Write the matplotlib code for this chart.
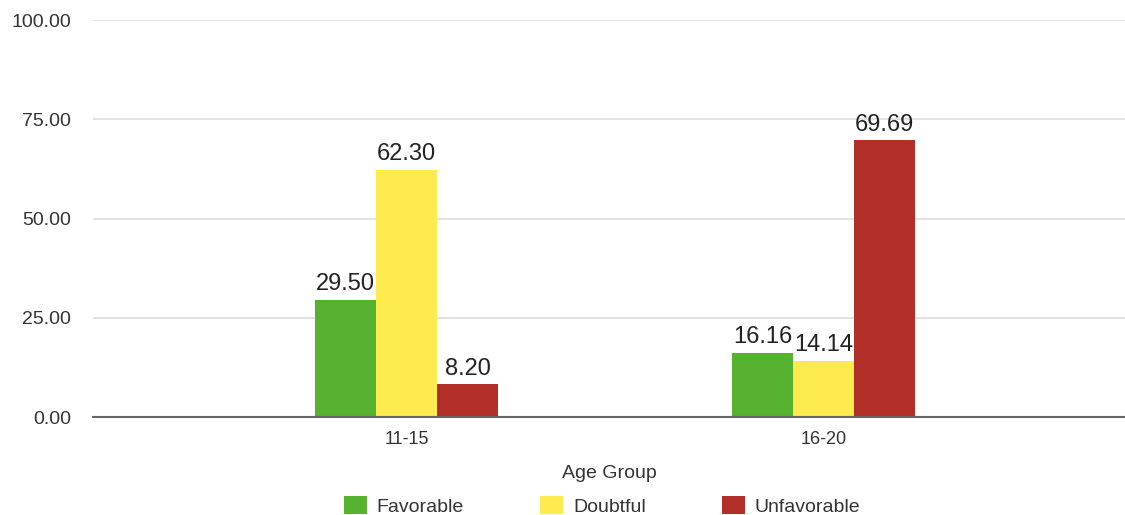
import matplotlib.pyplot as plt
import numpy as np

plt.rcParams['font.family'] = ['Liberation Sans', 'DejaVu Sans']

age_groups = ['11-15', '16-20']
favorable = [29.50, 16.16]
doubtful = [62.30, 14.14]
unfavorable = [8.20, 69.69]
series_names = ['Favorable', 'Doubtful', 'Unfavorable']
colors = ['#56b12f', '#fdeb4f', '#b22e28']

fig = plt.figure(figsize=(11.25, 5.15), dpi=100)
ax = fig.add_axes([93 / 1125, 98 / 515, 1032 / 1125, 397 / 515])

x = np.arange(len(age_groups))
w = 0.146
for i, (vals, name, c) in enumerate(zip([favorable, doubtful, unfavorable], series_names, colors)):
    bars = ax.bar(x + (i - 1) * w, vals, width=w, color=c, label=name, zorder=3)
    for b, v in zip(bars, vals):
        ax.text(b.get_x() + b.get_width() / 2, v + 1.2, f'{v:.2f}',
                ha='center', va='bottom', fontsize=17, color='#222222')

ax.set_xlim(-0.752, 1.723)
ax.set_ylim(0, 100)
ax.set_yticks([0, 25, 50, 75, 100])
ax.set_yticklabels([f'{t:.2f}' for t in [0, 25, 50, 75, 100]], fontsize=14, color='#333333')
ax.set_xticks(x)
ax.set_xticklabels(age_groups, fontsize=13, color='#333333')
ax.tick_params(axis='y', length=0, pad=16)
ax.tick_params(axis='x', length=0, pad=10)
ax.grid(axis='y', color='#dddddd', linewidth=1.2, zorder=0)
for s in ['top', 'right', 'left']:
    ax.spines[s].set_visible(False)
ax.spines['bottom'].set_color('#666666')
ax.spines['bottom'].set_linewidth(1.5)
ax.spines['bottom'].set_zorder(4)

ax.set_xlabel('Age Group', fontsize=14, color='#333333', labelpad=12)

fig.legend(loc='center', bbox_to_anchor=(602 / 1125, 1 - 506 / 515), ncol=3,
           frameon=False, fontsize=14, handlelength=1.2, handleheight=1.0,
           handletextpad=0.5, columnspacing=3.9, labelcolor='#333333')

fig.savefig('out.png', dpi=100)
